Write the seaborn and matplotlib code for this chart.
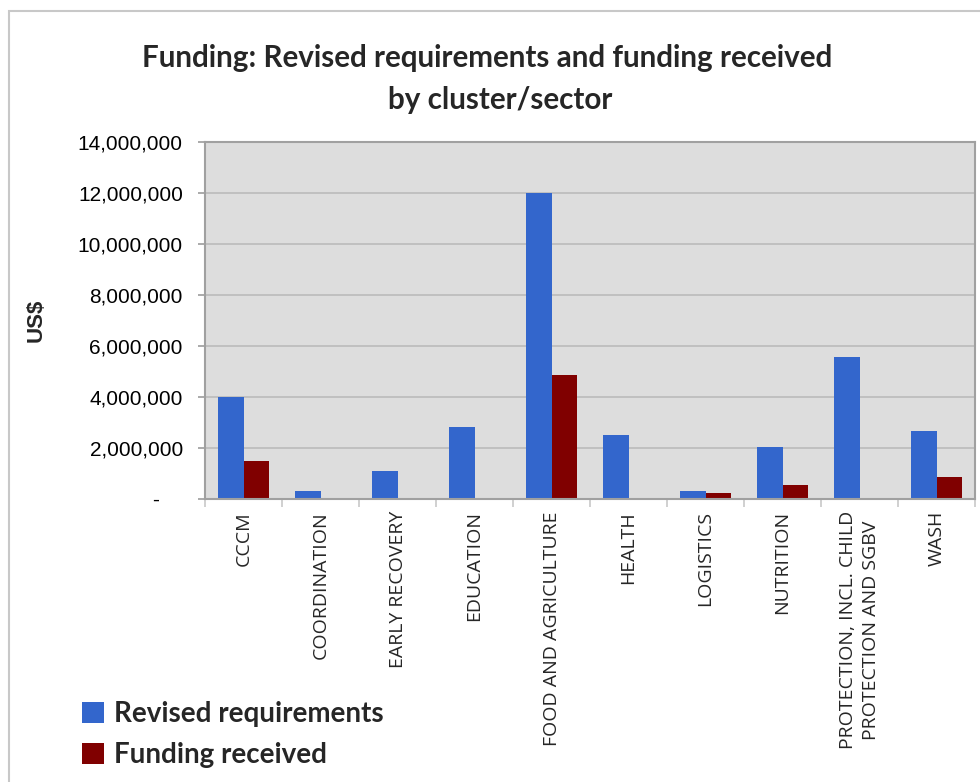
import matplotlib
matplotlib.use("Agg")
import matplotlib.pyplot as plt
from matplotlib.patches import Rectangle, Patch
from matplotlib.ticker import FuncFormatter, FixedLocator
import numpy as np
import pandas as pd
import seaborn as sns

# Funding by cluster/sector (US$)
clusters = [
    "CCCM",
    "COORDINATION",
    "EARLY RECOVERY",
    "EDUCATION",
    "FOOD AND AGRICULTURE",
    "HEALTH",
    "LOGISTICS",
    "NUTRITION",
    "PROTECTION, INCL. CHILD\nPROTECTION AND SGBV",
    "WASH",
]
revised_requirements = [4000000, 300000, 1090000, 2810000, 12000000,
                        2500000, 300000, 2030000, 5560000, 2660000]
funding_received = [1480000, 0, 0, 0, 4850000,
                    0, 220000, 540000, 0, 850000]
series_names = ["Revised requirements", "Funding received"]
y_ticks = [0, 2000000, 4000000, 6000000, 8000000, 10000000, 12000000, 14000000]

df = pd.DataFrame({
    "cluster": clusters * 2,
    "amount": revised_requirements + funding_received,
    "series": [series_names[0]] * len(clusters) + [series_names[1]] * len(clusters),
})

sns.set_theme(style="white")
plt.rcParams["font.family"] = ["Liberation Sans", "DejaVu Sans"]

colors = {"Revised requirements": "#3366CC", "Funding received": "#800000"}

fig = plt.figure(figsize=(9.8, 7.82), dpi=100)
ax = fig.add_axes([205 / 980, 1 - 498.7 / 782, (975 - 205) / 980, (498.7 - 142) / 782])
ax.set_facecolor("#DDDDDD")

sns.barplot(data=df, x="cluster", y="amount", hue="series", palette=colors,
            width=0.65, gap=0, saturation=1, ax=ax, legend=False, linewidth=0)

ax.set_ylim(0, 14000000)
ax.set_xlim(-0.5, len(clusters) - 0.5)
ax.yaxis.set_major_locator(FixedLocator(y_ticks))
ax.yaxis.set_major_formatter(FuncFormatter(lambda v, p: "-    " if v == 0 else f"{v:,.0f}"))
ax.grid(axis="y", color="#BBBBBB", linewidth=1.2)
ax.set_axisbelow(True)

for side in ["left", "bottom", "top", "right"]:
    ax.spines[side].set_visible(True)
    ax.spines[side].set_color("#A0A0A0")
    ax.spines[side].set_linewidth(1.5)

ax.tick_params(axis="y", which="major", left=True, length=5, color="#A0A0A0",
               labelsize=15, pad=11, labelcolor="black")
ax.set_xticks(np.arange(len(clusters)))
ax.set_xticks(np.arange(len(clusters) + 1) - 0.5, minor=True)
ax.tick_params(axis="x", which="major", bottom=False, length=0, pad=9)
ax.tick_params(axis="x", which="minor", bottom=True, length=6, color="#C8C8C8", width=1.2)
ax.set_xticklabels(clusters, rotation=90, fontsize=14, family=["Open Sans", "DejaVu Sans"],
                   ha="center", va="top", multialignment="center", linespacing=1.35)

ax.set_xlabel("")
ax.set_ylabel("US$", fontsize=16, fontweight="bold", labelpad=22)

title_font = dict(ha="center", va="center", fontsize=21.3, fontweight="bold",
                  family=["Lato", "DejaVu Sans"])
fig.text(487 / 980, 1 - 58 / 782, "Funding: Revised requirements and funding received", **title_font)
fig.text(500 / 980, 1 - 100 / 782, "by cluster/sector", **title_font)

handles = [Patch(facecolor=colors[s], edgecolor="none") for s in series_names]
fig.legend(handles, series_names, loc="upper left", bbox_to_anchor=(57 / 980, 1 - 676 / 782),
           frameon=False, prop={"family": "Lato", "weight": "bold", "size": 20},
           handlelength=0.8, handleheight=0.8, handletextpad=0.35, labelspacing=0.55)

fig.patches.append(Rectangle((9 / 980, -0.05), 1.1, 1 - 11 / 782 + 0.05, transform=fig.transFigure,
                             fill=False, edgecolor="#C8C8C8", linewidth=1.5, zorder=-1))

fig.savefig("out.png", dpi=100)
